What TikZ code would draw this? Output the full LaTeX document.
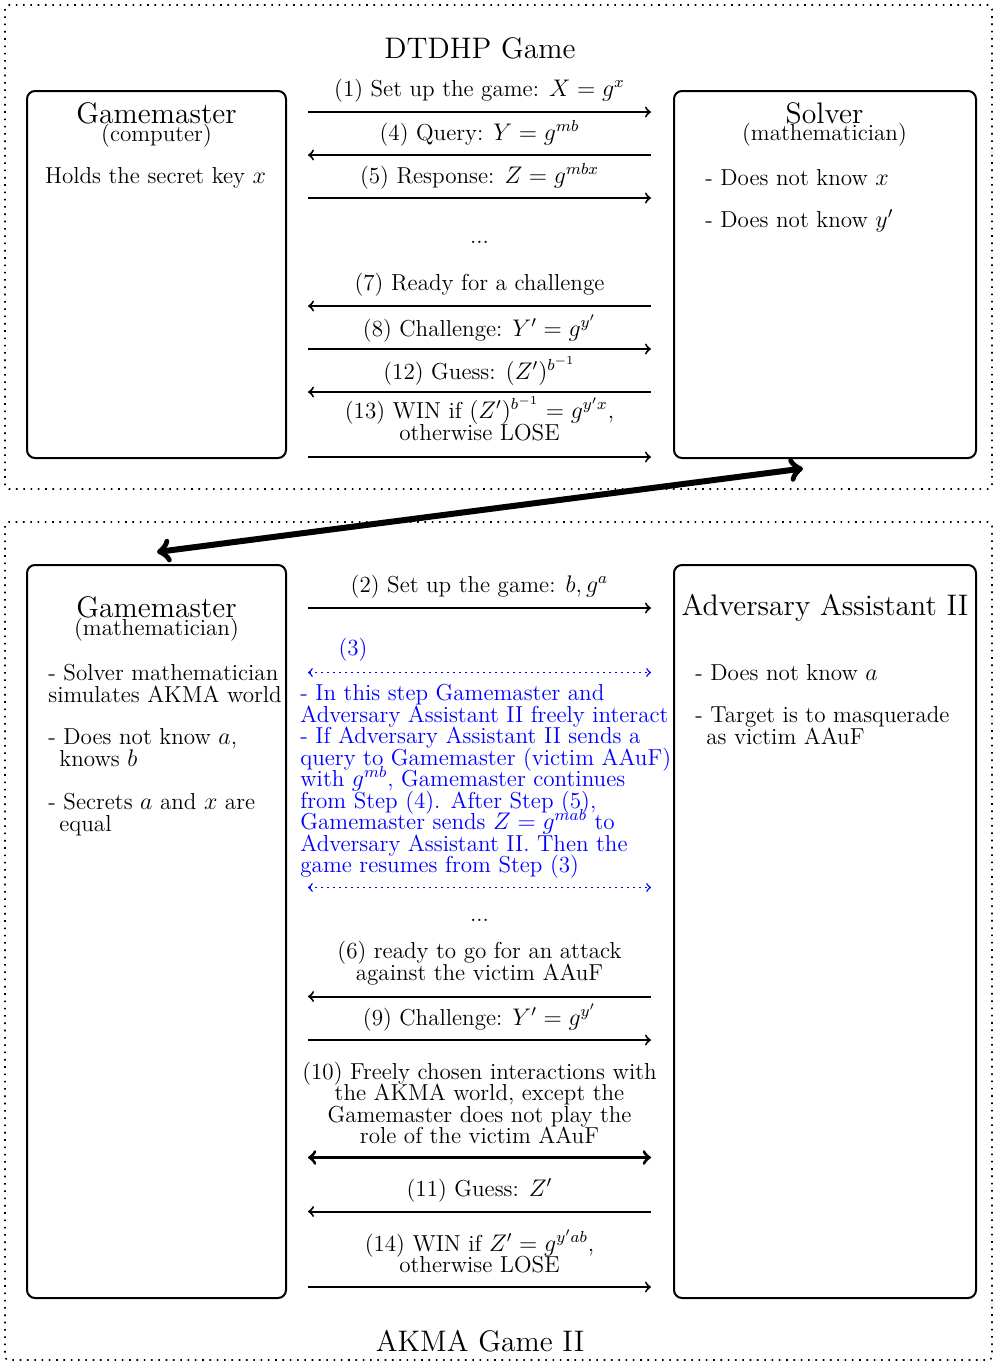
\documentclass[tikz,border=0pt]{standalone}
\newcommand\bodyfont{\fontsize{11.55}{10.75}\selectfont\lineskiplimit=-10pt\relax}
\newcommand\headfont{\fontsize{14.85}{14}\selectfont}
\definecolor{stepblue}{RGB}{0,0,255}

\begin{document}
\begin{tikzpicture}[x=0.5pt,y=-0.5pt,
  every node/.style={inner sep=0pt, font=\bodyfont},
  frame/.style={line width=0.8pt, dash pattern=on 0.8pt off 2.85pt, rounded corners=2pt},
  party/.style={draw, line width=1pt, rounded corners=4pt},
  msg/.style={line width=1pt},
  boldmsg/.style={line width=1.6pt},
  jump/.style={line width=3pt},
  freestep/.style={stepblue, line width=0.7pt, dash pattern=on 0.7pt off 2.3pt},
  lbl/.style={anchor=base, align=center},
  head/.style={anchor=base, font=\headfont},
  item/.style={anchor=base west, align=left},
  freetext/.style={anchor=base west, align=left, text=stepblue}
]
\useasboundingbox (0,0) rectangle (994,1362);

% the two game frames
\draw[frame] (5,5) rectangle (992,489);
\draw[frame] (5,522) rectangle (992,1360);
\node[head] (dtdhp) at (480,58) {DTDHP Game};
\node[head] (akma) at (480,1351) {AKMA Game II};

% parties
\node[party, minimum width=129.5pt, minimum height=183.5pt] (gm1) at (156.5,274.5) {};
\node[party, minimum width=151pt, minimum height=183.5pt] (sol) at (825,274.5) {};
\node[party, minimum width=129.5pt, minimum height=366.5pt] (gm2) at (156.5,931.5) {};
\node[party, minimum width=151pt, minimum height=366.5pt] (adv) at (825,931.5) {};

% party texts, DTDHP game (multi-line nodes sit on their last baseline)
\node[head] (gm1t) at (156.5,123) {Gamemaster};
\node[anchor=base] (gm1s) at (156.5,141) {(computer)};
\node[anchor=base] (gm1a) at (155.5,183) {Holds the secret key $x$};
\node[head] (solt) at (824.5,123) {Solver};
\node[anchor=base] (sols) at (824.5,140) {(mathematician)};
\node[item] (sola) at (705,185) {- Does not know $x$};
\node[item] (solb) at (705,227) {- Does not know $y'$};

% party texts, AKMA game
\node[head] (gm2t) at (156.5,617) {Gamemaster};
\node[anchor=base] (gm2s) at (156.5,635) {(mathematician)};
\node[item] (gm2a) at (48,702) {- Solver mathematician\\simulates AKMA world};
\node[item] (gm2b) at (48,766) {- Does not know $a$,\\\hspace*{5.5pt}knows $b$};
\node[item] (gm2c) at (48,831) {- Secrets $a$ and $x$ are\\\hspace*{5.5pt}equal};
\node[head] (advt) at (825,615) {Adversary Assistant II};
\node[item] (adva) at (695,680) {- Does not know $a$};
\node[item] (advb) at (695,744) {- Target is to masquerade\\\hspace*{5.5pt}as victim AAuF};

% message rails
\coordinate (uL) at ([xshift=10.5pt]gm1.east);
\coordinate (uR) at ([xshift=-11pt]sol.west);
\coordinate (dL) at ([xshift=10.5pt]gm2.east);
\coordinate (dR) at ([xshift=-11pt]adv.west);

% DTDHP messages
\node[lbl] (m1) at (479.5,96) {(1) Set up the game: $X=g^x$};
\draw[msg,->] (uL |- 0,112) -- (uR |- 0,112);
\node[lbl] (m4) at (479.5,140) {(4) Query: $Y=g^{mb}$};
\draw[msg,<-] (uL |- 0,155) -- (uR |- 0,155);
\node[lbl] (m5) at (479.5,183) {(5) Response: $Z=g^{mbx}$};
\draw[msg,->] (uL |- 0,198) -- (uR |- 0,198);
\node[lbl] (mdots) at (479.5,243) {...};
\node[lbl] (m7) at (479.5,290) {(7) Ready for a challenge};
\draw[msg,<-] (uL |- 0,306) -- (uR |- 0,306);
\node[lbl] (m8) at (479.5,336) {(8) Challenge: $Y'=g^{y'}$};
\draw[msg,->] (uL |- 0,349) -- (uR |- 0,349);
\node[lbl] (m12) at (479.5,379) {(12) Guess: $(Z')^{b^{-1}}$};
\draw[msg,<-] (uL |- 0,392) -- (uR |- 0,392);
\node[lbl] (m13) at (479.5,440) {(13) WIN if $(Z')^{b^{-1}}=g^{y'x}$,\\otherwise LOSE};
\draw[msg,->] (uL |- 0,457) -- (uR |- 0,457);

% link between the two games
\coordinate (jA) at ([shift={(0.25pt,6pt)}]gm2.north);
\coordinate (jB) at ([shift={(-11pt,-4.75pt)}]sol.south);
\draw[jump,<->] (jA) -- (jB);

% AKMA messages
\node[lbl] (n2) at (479.5,592) {(2) Set up the game: $b,g^a$};
\draw[msg,->] (dL |- 0,608) -- (dR |- 0,608);
\node[lbl, text=stepblue] (n3) at (353,655) {(3)};
\draw[freestep,<->] (dL |- 0,672.5) -- (dR |- 0,672.5);
\node[freetext] (n3t) at (300,872.5) {- In this step Gamemaster and\\
Adversary Assistant II freely interact\\
- If Adversary Assistant II sends a\\
query to Gamemaster (victim AAuF)\\
with $g^{mb}$, Gamemaster continues\\
from Step (4). After Step (5),\\
Gamemaster sends $Z=g^{mab}$ to\\
Adversary Assistant II. Then the\\
game resumes from Step (3)};
\draw[freestep,<->] (dL |- 0,887.5) -- (dR |- 0,887.5);
\node[lbl] (ndots) at (479.5,921) {...};
\node[lbl] (n6) at (479.5,980) {(6) ready to go for an attack\\against the victim AAuF};
\draw[msg,<-] (dL |- 0,996.5) -- (dR |- 0,996.5);
\node[lbl] (n9) at (479.5,1025) {(9) Challenge: $Y'=g^{y'}$};
\draw[msg,->] (dL |- 0,1040) -- (dR |- 0,1040);
\node[lbl] (n10) at (479.5,1143.5) {(10) Freely chosen interactions with\\the AKMA world, except the\\Gamemaster does not play the\\role of the victim AAuF};
\draw[boldmsg,<->] (dL |- 0,1157.5) -- (dR |- 0,1157.5);
\node[lbl] (n11) at (479.5,1196.5) {(11) Guess: $Z'$};
\draw[msg,<-] (dL |- 0,1211.5) -- (dR |- 0,1211.5);
\node[lbl] (n14) at (479.5,1272.5) {(14) WIN if $Z'=g^{y'ab}$,\\otherwise LOSE};
\draw[msg,->] (dL |- 0,1287) -- (dR |- 0,1287);
\end{tikzpicture}
\end{document}
